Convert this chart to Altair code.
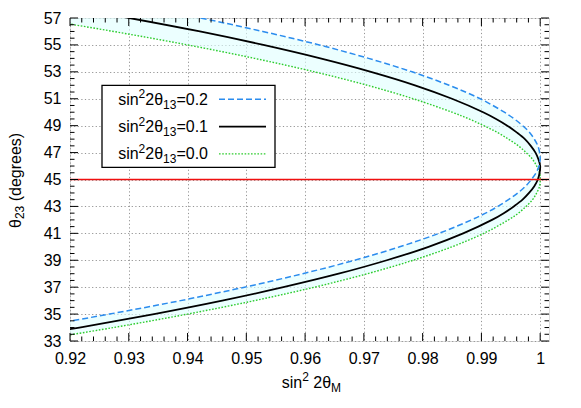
import altair as alt
import numpy as np
import pandas as pd

# ---- data ----
theta = [33, 34, 35, 36, 37, 38, 39, 40, 41, 42, 42.5, 43, 43.5, 44, 44.5, 45, 45.5,
         46, 46.5, 47, 47.5, 48, 48.5, 49, 49.5, 50, 51, 52, 53, 54, 55, 56, 57, 58]

# sin^2 2theta_M for sin^2 2theta13 = 0.2 (blue dashed)
x_s02 = [0.8994, 0.9136, 0.9267, 0.9388, 0.9497, 0.9596, 0.9684, 0.9761, 0.9828, 0.9883,
         0.9907, 0.9928, 0.9946, 0.9962, 0.9975, 0.9985, 0.9993, 0.9998, 1.0000, 0.9999,
         0.9996, 0.9990, 0.9982, 0.9970, 0.9956, 0.9939, 0.9898, 0.9845, 0.9782, 0.9708,
         0.9624, 0.9528, 0.9422, 0.9304]
# sin^2 2theta13 = 0.1 (black solid)
x_s01 = [0.9078, 0.9216, 0.9343, 0.9459, 0.9563, 0.9657, 0.9739, 0.9810, 0.9869, 0.9918,
         0.9938, 0.9955, 0.9970, 0.9981, 0.9990, 0.9996, 0.9999, 1.0000, 0.9997, 0.9992,
         0.9984, 0.9974, 0.9960, 0.9944, 0.9925, 0.9903, 0.9850, 0.9787, 0.9712, 0.9626,
         0.9529, 0.9421, 0.9301, 0.9171]
# sin^2 2theta13 = 0.0 (green dotted)
x_s00 = [0.9136, 0.9274, 0.9400, 0.9514, 0.9616, 0.9706, 0.9784, 0.9850, 0.9904, 0.9946,
         0.9963, 0.9976, 0.9987, 0.9994, 0.9999, 1.0000, 0.9999, 0.9994, 0.9987, 0.9976,
         0.9963, 0.9946, 0.9927, 0.9904, 0.9879, 0.9850, 0.9784, 0.9706, 0.9616, 0.9514,
         0.9400, 0.9274, 0.9136, 0.8986]

# legend texts: "sin" ^"2" "2θ" _"13" "=value"
s13_values = ["0.2", "0.1", "0.0"]
ref_theta = [45]

x_major = [0.92, 0.93, 0.94, 0.95, 0.96, 0.97, 0.98, 0.99, 1.0]
y_major = [33, 35, 37, 39, 41, 43, 45, 47, 49, 51, 53, 55, 57]

# ---- derived tables ----
x_minor = [v for v in np.round(np.arange(0.922, 1.0012, 0.002), 3) if not any(abs(v - m) < 1e-6 for m in x_major)]
y_minor = [v for v in np.arange(33.5, 57.0, 0.5) if v not in y_major]

df = pd.DataFrame({"theta": theta, "xb": x_s02, "xk": x_s01, "xg": x_s00})

FONT = "Liberation Sans"
W, H = 479, 323
BIG, SMALL = 16, 12

# Arial-compatible advance widths (per em) for rich-text layout
ADV = {"s": .5, "i": .222, "n": .556, "2": .556, "θ": .556, "1": .556, "3": .556,
       "=": .584, "0": .556, ".": .278, " ": .278, "(": .333, ")": .333, "d": .556,
       "e": .556, "g": .556, "r": .333, "M": .833}


def tw(t, size):
    return sum(ADV.get(ch, .556) for ch in t) * size


def rich(pieces, x0, y0, vertical=False):
    """pieces: list of (text, size, baseline shift); shift>0 = down (subscript)."""
    out = []
    pos = 0.0
    for t, size, shift in pieces:
        lead = len(t) - len(t.lstrip(" "))
        pos += tw(" " * lead, size)
        t = t.strip(" ")
        if vertical:
            x, y, ang = x0 + shift, y0 - pos, 270
        else:
            x, y, ang = x0 + pos, y0 + shift, 0
        out.append(alt.Chart(pd.DataFrame({"t": [t]})).mark_text(
            align="left", baseline="alphabetic", font=FONT, fontSize=size,
            color="black", angle=ang).encode(
            x=alt.value(x), y=alt.value(y), text="t:N"))
        pos += tw(t, size)
    return out


xs = alt.Scale(domain=[0.92, 1.0015], nice=False, zero=False)
ys = alt.Scale(domain=[33, 57], nice=False, zero=False)

common = dict(labelFontSize=16, labelFont=FONT, labelColor="black", ticks=False,
              domain=False, grid=True, gridColor="#959595", gridDash=[1.2, 2.4],
              gridWidth=1, labelPadding=9, labelOverlap=False, labelFlush=False, title=None)
xaxis = alt.Axis(values=x_major, format="~g", **common)
yaxis = alt.Axis(values=y_major, format="d", **common)

X = lambda f: alt.X(f, type="quantitative", scale=xs, axis=xaxis)
Y = lambda f: alt.Y(f, type="quantitative", scale=ys, axis=yaxis)

band = alt.Chart(df).mark_area(orient="horizontal", color="#e0ffff", opacity=0.6,
                               interpolate="catmull-rom", clip=True).encode(
    y=Y("theta"), x=X("xb"), x2="xg")

redline = alt.Chart(pd.DataFrame({"t": ref_theta})).mark_rule(
    color="#f01010", strokeWidth=1.4).encode(y=Y("t"))

styles = [
    ("xb", "#2b8cee", [6, 3], 1.5),
    ("xk", "black", None, 1.8),
    ("xg", "#2ecc2e", [1.6, 1.6], 1.4),
]
lines = []
for f, c, d, w in reversed(styles):
    kw = dict(color=c, strokeWidth=w, interpolate="catmull-rom", clip=True)
    if d:
        kw["strokeDash"] = d
    lines.append(alt.Chart(df).mark_line(**kw).encode(x=X(f), y=Y("theta"), order="theta:Q"))

# inward ticks on all four sides
ticks = []
for vals, L in [(x_major, 8), (x_minor, 4.5)]:
    tdf = pd.DataFrame({"v": vals})
    ticks.append(alt.Chart(tdf).mark_rule(color="black", strokeWidth=1).encode(
        x=X("v"), y=alt.value(H), y2=alt.value(H - L)))
    ticks.append(alt.Chart(tdf).mark_rule(color="black", strokeWidth=1).encode(
        x=X("v"), y=alt.value(0), y2=alt.value(L)))
for vals, L in [(y_major, 8), (y_minor, 4.5)]:
    tdf = pd.DataFrame({"v": vals})
    ticks.append(alt.Chart(tdf).mark_rule(color="black", strokeWidth=1).encode(
        y=Y("v"), x=alt.value(0), x2=alt.value(L)))
    ticks.append(alt.Chart(tdf).mark_rule(color="black", strokeWidth=1).encode(
        y=Y("v"), x=alt.value(W), x2=alt.value(W - L)))

# legend box (key)
one = pd.DataFrame({"a": [0]})
legend = [alt.Chart(one).mark_rect(fill="white", stroke="black", strokeWidth=1.3).encode(
    x=alt.value(32), x2=alt.value(205), y=alt.value(67.4), y2=alt.value(149.3))]
row_y = [81.3, 108.6, 135.9]
for i, (val, (f, c, d, w)) in enumerate(zip(s13_values, styles)):
    pieces = [("sin", BIG, 0), ("2", SMALL, -6.5), ("2θ", BIG, 0), ("13", SMALL, 4),
              ("=" + val, BIG, 0)]
    total = sum(tw(t, s) for t, s, _ in pieces)
    legend += rich(pieces, 138 - total, row_y[i] + 5.5)
    kw = dict(color=c, strokeWidth=w)
    if d:
        kw["strokeDash"] = d
    legend.append(alt.Chart(one).mark_rule(**kw).encode(
        x=alt.value(149), x2=alt.value(196), y=alt.value(row_y[i])))

# axis titles with super/subscripts
xtitle = rich([("sin", BIG, 0), ("2", SMALL, -6.5), (" 2θ", BIG, 0), ("M", SMALL, 4)],
              211.7, 369.5)
ytitle = rich([("θ", BIG, 0), ("23", SMALL, 3.5), (" (degrees)", BIG, 0)],
              -49.2, 210, vertical=True)

chart = alt.layer(band, *lines, redline, *ticks, *legend, *xtitle, *ytitle).properties(
    width=W, height=H,
    autosize=alt.AutoSizeParams(type="none"),
    padding={"left": 62, "top": 10, "right": 24, "bottom": 59},
).configure_view(stroke="black", strokeWidth=1.6).configure(background="white")

chart.save("out.html", embed_options={"renderer": "svg", "actions": False})
